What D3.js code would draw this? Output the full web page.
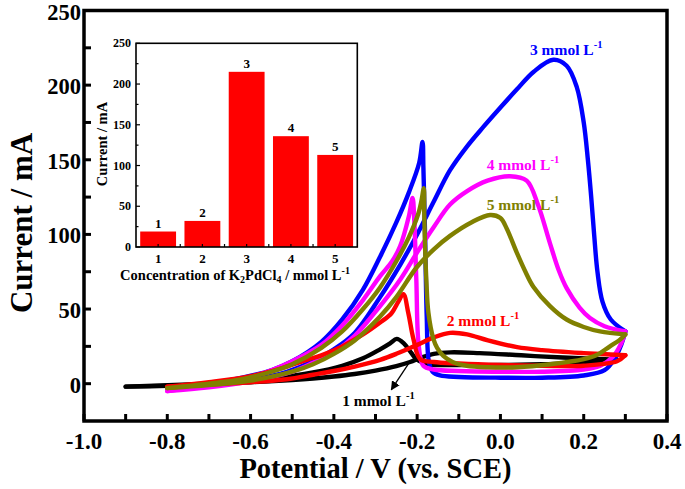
<!DOCTYPE html>
<html><head><meta charset="utf-8">
<script src="https://cdn.jsdelivr.net/npm/d3@7"></script>
<style>
html,body{margin:0;padding:0;background:#fff;}
svg{display:block;font-family:"Liberation Serif","Times New Roman",serif;font-weight:bold;}
</style></head><body>
<svg id="chart" width="685" height="489"></svg>
<script>
// ---------- main axes ----------
const xTicksMajor = [-1.0,-0.8,-0.6,-0.4,-0.2,0.0,0.2,0.4];
const xTicksMinor = [-0.9,-0.7,-0.5,-0.3,-0.1,0.1,0.3];
const yTicksMajor = [0,50,100,150,200,250];
const yTicksMinor = [25,75,125,175,225];

// ---------- CV curves: [potential V, current mA] ----------
const fwd1 = [[-0.9,-2],[-0.8,-1.5],[-0.7,-0.5],[-0.6,1],[-0.5,2.5],[-0.45,3.5],[-0.4,4.8],[-0.35,6.5],[-0.3,8.8],[-0.25,11.8],[-0.217,14.5],[-0.19,17.5],[-0.16,20],[-0.12,21],[-0.05,20.5],[0.05,19],[0.15,17.5],[0.28,16]];
const rev1 = [[0.28,16],[0.2,14],[0.1,13],[0,12.5],[-0.1,12.5],[-0.17,13],[-0.2,16],[-0.215,21],[-0.232,27],[-0.249,30],[-0.265,27],[-0.289,23],[-0.33,17],[-0.38,12],[-0.45,7.5],[-0.55,3.5],[-0.65,1],[-0.75,-0.5],[-0.9,-2]];

const fwd2 = [[-0.8,-2],[-0.7,-0.5],[-0.6,1],[-0.513,3],[-0.45,6],[-0.4,8.5],[-0.35,11.5],[-0.289,16],[-0.25,20],[-0.2,26],[-0.16,31],[-0.121,34],[-0.08,33],[-0.03,29],[0.04,24.5],[0.1,22.5],[0.2,20.5],[0.3,19]];
const rev2 = [[0.3,19],[0.28,15],[0.2,12],[0.1,12],[0,12.5],[-0.1,13.5],[-0.16,14.5],[-0.193,16.5],[-0.209,30],[-0.221,47],[-0.233,60],[-0.245,55],[-0.262,47],[-0.289,41],[-0.33,33],[-0.38,25],[-0.43,19],[-0.465,16],[-0.53,10],[-0.6,5],[-0.7,1],[-0.8,-2]];

const fwd3 = [[-0.8,-3],[-0.7,-1],[-0.6,2.5],[-0.513,8],[-0.45,15],[-0.4,23],[-0.35,34],[-0.289,58],[-0.24,80],[-0.2,100],[-0.16,122],[-0.121,143],[-0.08,159],[-0.041,172],[0,185],[0.039,197],[0.08,209],[0.127,217],[0.159,213],[0.183,199],[0.2,175],[0.21,150],[0.218,125],[0.225,100],[0.233,75],[0.245,55],[0.265,43],[0.3,35]];
const rev3 = [[0.3,35],[0.29,26],[0.275,17],[0.25,9],[0.2,5.5],[0.1,4],[0,4],[-0.1,4.5],[-0.145,5.5],[-0.163,8],[-0.172,15],[-0.177,45],[-0.181,100],[-0.185,145],[-0.187,162],[-0.195,148],[-0.22,128],[-0.25,108],[-0.289,85],[-0.33,63],[-0.38,43],[-0.43,28],[-0.5,15],[-0.55,9],[-0.62,4],[-0.7,0],[-0.8,-3]];

const fwd4 = [[-0.8,-5],[-0.7,-2.5],[-0.6,1.5],[-0.5,8],[-0.45,14],[-0.4,21],[-0.35,32],[-0.289,52],[-0.24,70],[-0.2,88],[-0.16,105],[-0.121,120],[-0.08,129],[-0.031,136],[0.023,139],[0.063,136],[0.09,120],[0.119,94],[0.14,76],[0.159,64],[0.19,51],[0.215,44],[0.25,38.5],[0.3,35]];
const rev4 = [[0.3,35],[0.29,27],[0.27,18],[0.24,12],[0.2,9.5],[0.1,8],[0,8],[-0.1,8.5],[-0.16,9.5],[-0.185,12],[-0.196,25],[-0.202,70],[-0.207,110],[-0.211,124.5],[-0.22,112],[-0.241,92],[-0.26,82],[-0.289,72],[-0.33,56],[-0.38,39],[-0.43,26],[-0.5,15],[-0.55,9],[-0.62,3],[-0.7,-1],[-0.8,-5]];

const fwd5 = [[-0.8,-3],[-0.7,-1],[-0.6,2],[-0.5,8],[-0.45,13],[-0.4,20],[-0.35,29],[-0.289,45],[-0.25,58],[-0.201,78],[-0.16,90],[-0.121,99],[-0.07,108],[-0.025,113],[0.0,111],[0.015,104],[0.039,88],[0.06,75],[0.079,65],[0.119,52],[0.159,43],[0.2,38],[0.239,35],[0.3,33]];
const rev5 = [[0.3,33],[0.285,29],[0.263,25],[0.23,19],[0.2,16.4],[0.12,13],[0.039,11],[-0.03,11],[-0.081,12],[-0.115,14.5],[-0.137,18.6],[-0.152,24],[-0.161,30],[-0.173,47.6],[-0.178,70],[-0.181,92],[-0.183,115],[-0.184,131],[-0.19,122],[-0.197,114],[-0.22,98],[-0.25,82],[-0.289,64.5],[-0.33,50],[-0.38,35],[-0.43,24],[-0.5,13],[-0.55,8],[-0.62,3],[-0.7,0],[-0.8,-3]];

// curve labels: [V, I, concentration]
const labelPos = [[-0.38,-15,"1"],[-0.129,38.6,"2"],[0.071,220.3,"3"],[-0.033,143.4,"4"],[-0.033,116.6,"5"]];
const arrow1 = [[-0.217,15],[-0.262,-4]];

// ---------- inset ----------
const insetCats = [1,2,3,4,5];
const insetValues = [19,32,215,136,113];
const insetYTicks = [0,50,100,150,200,250];
const insetYMinor = [25,75,125,175,225];

const colors = {"1":"#000000","2":"#ff0000","3":"#0000ff","4":"#ff00ff","5":"#808000"};

const svg = d3.select("#chart");
const x = d3.scaleLinear([-1.0,0.4],[84,667]);
const y = d3.scaleLinear([-25,250],[421,10.5]);

// ---- main frame and ticks
const g = svg.append("g");
const tickLen = 7;
[...xTicksMajor, ...xTicksMinor].forEach(v=>{
  g.append("line").attr("x1",x(v)).attr("x2",x(v)).attr("y1",y(-25)).attr("y2",y(-25)-tickLen)
   .attr("stroke","#000").attr("stroke-width",3);
});
[...yTicksMajor, ...yTicksMinor].forEach(v=>{
  g.append("line").attr("x1",x(-1)).attr("x2",x(-1)+tickLen).attr("y1",y(v)).attr("y2",y(v))
   .attr("stroke","#000").attr("stroke-width",3);
});
xTicksMajor.forEach(v=>{
  g.append("text").attr("x",x(v)).attr("y",449).attr("text-anchor","middle")
   .attr("font-size",23).text(v.toFixed(1));
});
yTicksMajor.forEach(v=>{
  g.append("text").attr("x",81).attr("y",y(v)+9).attr("text-anchor","end")
   .attr("font-size",22.5).text(String(v));
});
g.append("text").attr("x",(x(-1)+x(0.4))/2).attr("y",478).attr("text-anchor","middle")
  .attr("font-size",28.5).text("Potential / V (vs. SCE)");
g.append("text").attr("transform","translate(32,223) rotate(-90)").attr("text-anchor","middle")
  .attr("font-size",31).text("Current / mA");

// ---- curves
const line = d3.line().x(d=>x(d[0])).y(d=>y(d[1])).curve(d3.curveCatmullRom.alpha(0.5));
const series = [[fwd1,rev1,"1"],[fwd3,rev3,"3"],[fwd4,rev4,"4"],[fwd2,rev2,"2"],[fwd5,rev5,"5"]];
const cg = svg.append("g").attr("fill","none").attr("stroke-width",4.4)
  .attr("stroke-linejoin","round").attr("stroke-linecap","round");
series.forEach(([f,r,k])=>{
  cg.append("path").attr("d",line(f)).attr("stroke",colors[k]);
  cg.append("path").attr("d",line(r)).attr("stroke",colors[k]);
});

// ---- curve labels
labelPos.forEach(([v,i,k])=>{
  const t = svg.append("text").attr("x",x(v)).attr("y",y(i)).attr("fill",colors[k]).attr("font-size",15.5);
  t.append("tspan").text(k+" mmol L");
  t.append("tspan").attr("dy",-7).attr("font-size",10.5).text("-1");
});
// arrow for 1 mmol
const defs = svg.append("defs");
defs.append("marker").attr("id","ah").attr("viewBox","0 0 10 10").attr("refX",9).attr("refY",5)
  .attr("markerWidth",7).attr("markerHeight",7).attr("orient","auto")
  .append("path").attr("d","M0,0 L10,5 L0,10 z").attr("fill","#000");
svg.append("line").attr("x1",x(arrow1[0][0])).attr("y1",y(arrow1[0][1]))
  .attr("x2",x(arrow1[1][0])).attr("y2",y(arrow1[1][1]))
  .attr("stroke","#000").attr("stroke-width",1.3).attr("marker-end","url(#ah)");

// ---- main frame on top
g.append("rect").attr("x",x(-1)).attr("y",y(250)).attr("width",x(0.4)-x(-1)).attr("height",y(-25)-y(250))
  .attr("fill","none").attr("stroke","#000").attr("stroke-width",3.5);

// ---------- inset ----------
const xi = d3.scaleLinear([0.5,5.5],[136,357.3]);
const yi = d3.scaleLinear([0,250],[247,43.3]);
const ig = svg.append("g");
ig.append("rect").attr("x",xi(0.5)).attr("y",yi(250)).attr("width",xi(5.5)-xi(0.5)).attr("height",yi(0)-yi(250))
  .attr("fill","#fff");
const bw = (xi(2)-xi(1))*0.81;
ig.selectAll("rect.bar").data(insetValues).enter().append("rect").attr("class","bar")
  .attr("x",(d,i)=>xi(insetCats[i])-bw/2).attr("y",d=>yi(d))
  .attr("width",bw).attr("height",d=>yi(0)-yi(d)).attr("fill","#ff0000");
ig.selectAll("text.bl").data(insetValues).enter().append("text").attr("class","bl")
  .attr("x",(d,i)=>xi(insetCats[i])).attr("y",d=>yi(d)-4).attr("text-anchor","middle")
  .attr("font-size",13).text((d,i)=>insetCats[i]);
insetYTicks.forEach(v=>{
  ig.append("line").attr("x1",xi(0.5)).attr("x2",xi(0.5)+4).attr("y1",yi(v)).attr("y2",yi(v)).attr("stroke","#000").attr("stroke-width",1.2);
  ig.append("text").attr("x",131).attr("y",yi(v)+4).attr("text-anchor","end").attr("font-size",12).text(String(v));
});
insetYMinor.forEach(v=>{
  ig.append("line").attr("x1",xi(0.5)).attr("x2",xi(0.5)+2.5).attr("y1",yi(v)).attr("y2",yi(v)).attr("stroke","#000").attr("stroke-width",1.2);
});
[1.5,2.5,3.5,4.5].forEach(v=>{
  ig.append("line").attr("x1",xi(v)).attr("x2",xi(v)).attr("y1",yi(0)).attr("y2",yi(0)-3).attr("stroke","#000").attr("stroke-width",1.2);
});
insetCats.forEach(c=>{
  ig.append("line").attr("x1",xi(c)).attr("x2",xi(c)).attr("y1",yi(0)).attr("y2",yi(0)-3).attr("stroke","#000").attr("stroke-width",1.2);
  ig.append("text").attr("x",xi(c)).attr("y",263).attr("text-anchor","middle").attr("font-size",13).text(String(c));
});
ig.append("rect").attr("x",xi(0.5)).attr("y",yi(250)).attr("width",xi(5.5)-xi(0.5)).attr("height",yi(0)-yi(250))
  .attr("fill","none").attr("stroke","#000").attr("stroke-width",1.6);
const tt = ig.append("text").attr("x",235).attr("y",280).attr("text-anchor","middle").attr("font-size",14.5);
tt.append("tspan").text("Concentration of K");
tt.append("tspan").attr("font-size",10).attr("dy",3).text("2");
tt.append("tspan").attr("dy",-3).text("PdCl");
tt.append("tspan").attr("font-size",10).attr("dy",3).text("4");
tt.append("tspan").attr("dy",-3).text(" / mmol L");
tt.append("tspan").attr("font-size",10).attr("dy",-6).text("-1");
ig.append("text").attr("transform","translate(107,144) rotate(-90)").attr("text-anchor","middle")
  .attr("font-size",14.5).text("Current / mA");
</script>
</body></html>
